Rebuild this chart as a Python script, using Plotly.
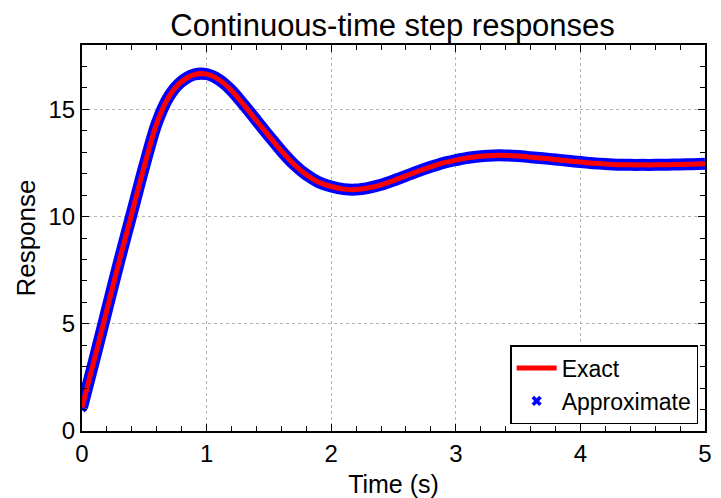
import plotly.graph_objects as go

# Sample times (s)
time_s = [0.0, 0.1, 0.2, 0.3, 0.4, 0.5, 0.6, 0.7, 0.8, 0.9,
          1.0, 1.1, 1.2, 1.3, 1.4, 1.5, 1.6, 1.7, 1.8, 1.9,
          2.0, 2.1, 2.2, 2.3, 2.4, 2.5, 2.6, 2.7, 2.8, 2.9,
          3.0, 3.1, 3.2, 3.3, 3.4, 3.5, 3.6, 3.7, 3.8, 3.9,
          4.0, 4.1, 4.2, 4.3, 4.4, 4.5, 4.6, 4.7, 4.8, 4.9, 5.0]

# Exact continuous-time step response
exact = [1.10, 3.35, 5.65, 7.95, 10.15, 12.35, 14.35, 15.62, 16.30, 16.62,
         16.64, 16.38, 15.88, 15.20, 14.48, 13.76, 13.06, 12.44, 11.95, 11.60,
         11.40, 11.28, 11.26, 11.34, 11.48, 11.68, 11.90, 12.12, 12.32, 12.50,
         12.63, 12.74, 12.81, 12.85, 12.85, 12.82, 12.77, 12.72, 12.66, 12.60,
         12.54, 12.49, 12.45, 12.42, 12.41, 12.41, 12.41, 12.42, 12.43, 12.44, 12.46]

# Approximate response (coincides with the exact one at this scale)
approximate = [1.10, 3.35, 5.65, 7.95, 10.15, 12.35, 14.35, 15.62, 16.30, 16.62,
               16.64, 16.38, 15.88, 15.20, 14.48, 13.76, 13.06, 12.44, 11.95, 11.60,
               11.40, 11.28, 11.26, 11.34, 11.48, 11.68, 11.90, 12.12, 12.32, 12.50,
               12.63, 12.74, 12.81, 12.85, 12.85, 12.82, 12.77, 12.72, 12.66, 12.60,
               12.54, 12.49, 12.45, 12.42, 12.41, 12.41, 12.41, 12.42, 12.43, 12.44, 12.46]

x_ticks = [0, 1, 2, 3, 4, 5]
y_ticks = [0, 5, 10, 15]

FONT = "Liberation Sans, Arial, Helvetica, sans-serif"
BLUE = "#0000ff"
RED = "#ff0000"

fig = go.Figure()

# Thick blue band formed by the densely marked approximate samples
fig.add_trace(go.Scatter(
    x=time_s, y=approximate, mode="lines",
    line=dict(color=BLUE, width=12, shape="spline", smoothing=0.8),
    legendgroup="approx", showlegend=False, hoverinfo="skip",
))
fig.add_trace(go.Scatter(
    x=time_s, y=approximate, mode="markers", name="Approximate",
    marker=dict(symbol="x", size=9, color=BLUE, line=dict(width=0)),
    legendgroup="approx", legendrank=2,
))
# Exact response drawn on top
fig.add_trace(go.Scatter(
    x=time_s, y=exact, mode="lines", name="Exact",
    line=dict(color=RED, width=5, shape="spline", smoothing=0.8),
    legendrank=1,
))

axis_common = dict(
    showline=True, linecolor="black", linewidth=2, mirror="ticks",
    ticks="inside", ticklen=7, tickwidth=1.2, tickcolor="black",
    showgrid=True, gridcolor="#b4b4b4", griddash="dot", gridwidth=1,
    zeroline=False, tickfont=dict(family=FONT, size=24, color="black"),
)

fig.update_xaxes(
    range=[0, 5], tickvals=x_ticks, ticktext=[str(v) for v in x_ticks],
    minor=dict(dtick=0.2, tick0=0, ticks="inside", ticklen=5, tickwidth=1.2,
               tickcolor="black", showgrid=False),
    title=dict(text="Time (s)", font=dict(family=FONT, size=25, color="black"),
               standoff=11),
    **axis_common,
)
fig.update_yaxes(
    range=[0, 18], tickvals=y_ticks, ticktext=[str(v) for v in y_ticks],
    minor=dict(dtick=1, tick0=0, ticks="inside", ticklen=5, tickwidth=1.2,
               tickcolor="black", showgrid=False),
    title=dict(text="Response", font=dict(family=FONT, size=26, color="black"),
               standoff=5),
    **axis_common,
)

fig.update_layout(
    width=721, height=498,
    margin=dict(l=82, r=16, t=45, b=67, autoexpand=False),
    paper_bgcolor="white", plot_bgcolor="white",
    title=dict(text="Continuous-time step responses", x=0.5445, xanchor="center",
               y=0.950, yanchor="middle", yref="container",
               font=dict(family=FONT, size=31, color="black")),
    legend=dict(
        x=0.989, xanchor="right", y=0.018, yanchor="bottom",
        bgcolor="white", bordercolor="black", borderwidth=1.5,
        font=dict(family=FONT, size=23, color="black"),
        tracegroupgap=0, itemwidth=40,
    ),
    showlegend=True,
)

fig.write_html("out.html")
